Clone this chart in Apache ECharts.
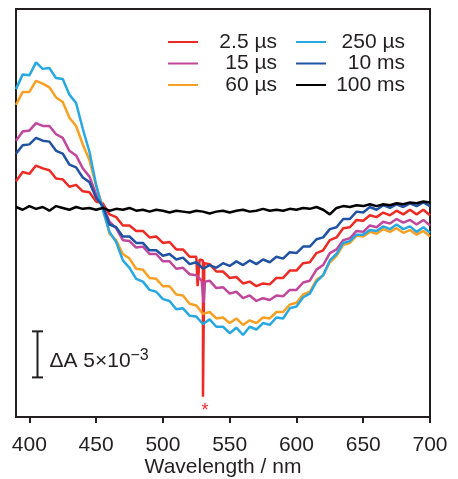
<!DOCTYPE html>
<html><head><meta charset="utf-8">
<script src="https://cdn.jsdelivr.net/npm/echarts@6/dist/echarts.min.js"></script>
<style>html,body{margin:0;padding:0;background:#fff}#c{width:458px;height:479px}</style>
</head><body><div id="c"></div>
<script>
// Wavelength grid (nm), 5 nm step
const wavelengths = [390,395,400,405,410,415,420,425,430,435,440,445,450,455,460,465,470,475,480,485,490,495,500,505,510,515,520,525,530,535,540,545,550,555,560,565,570,575,580,585,590,595,600,605,610,615,620,625,630,635,640,645,650,655,660,665,670,675,680,685,690,695,700];
const tickValues = [400,450,500,550,600,650,700];
const seriesNames = ['2.5 µs','15 µs','60 µs','250 µs','10 ms','100 ms'];
// ΔA values in units of 1e-3
const red_2_5us = [3.0,4.0,3.8,4.7,4.4,4.2,3.3,3.2,2.4,2.6,1.9,1.8,0.8,0.6,-0.6,-0.9,-1.8,-1.8,-2.4,-2.4,-3.1,-3.0,-3.7,-3.6,-4.4,-4.4,-5.2,-5.2,-5.6,-6.0,-6.8,-6.8,-7.5,-7.4,-8.1,-7.9,-8.4,-8.1,-8.2,-7.5,-7.5,-6.7,-6.7,-5.9,-5.8,-4.8,-4.5,-3.4,-3.1,-2.1,-2.0,-1.2,-1.3,-0.7,-0.9,-0.4,-0.7,-0.2,-0.6,-0.1,-0.6,-0.1,-0.7];
const redSpikeWl = [526,527.5,530,531];
const redSpikeVal = [-8.4,-5.5,-20.4,-5.9];
const magenta_15us = [7.4,8.4,8.5,9.3,9.0,9.0,8.1,7.7,6.3,5.8,4.4,3.5,1.6,0.4,-1.4,-2.1,-3.4,-3.5,-4.2,-4.1,-4.9,-4.9,-5.7,-5.7,-6.5,-6.4,-7.1,-7.2,-7.9,-7.8,-8.6,-8.5,-9.2,-9.0,-9.7,-9.4,-10.0,-9.7,-9.9,-9.4,-9.5,-8.8,-8.8,-8.0,-7.8,-6.6,-6.1,-4.8,-4.4,-3.4,-3.2,-2.4,-2.5,-1.8,-2.0,-1.4,-1.6,-1.1,-1.5,-1.2,-1.7,-1.2,-1.8];
const magentaSpikeWl = [529,530.5,531.5];
const magentaSpikeVal = [-7.8,-10.2,-7.9];
const orange_60us = [11.3,12.7,12.7,13.9,13.6,13.2,12.1,11.6,9.9,9.0,7.0,5.3,2.5,0.2,-2.7,-3.4,-4.9,-5.4,-6.5,-6.6,-7.5,-7.6,-8.4,-8.4,-9.3,-9.4,-10.3,-10.5,-11.4,-11.2,-11.9,-11.8,-12.4,-11.9,-12.6,-12.1,-12.4,-11.8,-11.9,-11.2,-11.2,-10.4,-10.2,-9.3,-9.0,-7.7,-7.2,-5.8,-5.1,-3.9,-3.7,-2.9,-3.0,-2.5,-2.7,-2.2,-2.5,-2.1,-2.6,-2.3,-2.8,-2.4,-3.0];
const lightblue_250us = [13.0,14.6,14.5,15.9,15.2,15.3,14.2,14.1,12.4,11.5,8.7,6.2,2.6,-0.1,-2.5,-3.6,-5.6,-6.4,-7.6,-7.9,-8.8,-9.0,-9.8,-10.0,-10.9,-10.8,-11.6,-11.7,-12.5,-12.0,-12.8,-12.8,-13.5,-12.9,-13.7,-12.8,-13.1,-12.4,-12.6,-11.8,-11.9,-10.8,-10.6,-9.6,-9.2,-7.9,-7.2,-5.6,-4.9,-3.7,-3.5,-2.8,-2.8,-2.3,-2.4,-1.9,-2.2,-1.7,-2.2,-1.9,-2.5,-2.0,-2.6];
const darkblue_10ms = [6.0,6.9,7.0,7.7,7.4,7.3,6.3,6.0,4.8,4.5,3.4,2.9,1.2,0.3,-1.7,-2.0,-3.0,-3.0,-3.7,-3.7,-4.5,-4.5,-5.1,-4.9,-5.5,-5.3,-6.0,-5.8,-6.5,-6.1,-6.4,-5.9,-6.2,-5.7,-6.1,-5.6,-6.0,-5.5,-5.8,-5.2,-5.4,-4.7,-4.8,-4.1,-4.1,-3.3,-3.1,-2.2,-2.0,-1.1,-1.1,-0.3,-0.4,0.2,-0.1,0.4,0.1,0.5,0.2,0.6,0.3,0.7,0.3];
const black_100ms = [0.2,-0.1,0.3,0.0,0.2,-0.2,0.3,0.1,-0.1,0.2,0.0,0.1,-0.1,0.1,-0.2,0.0,-0.1,0.1,-0.2,-0.1,-0.3,-0.1,-0.2,-0.4,-0.2,-0.3,-0.4,-0.2,-0.3,-0.5,-0.3,-0.2,-0.4,-0.2,-0.1,-0.3,-0.2,0.0,-0.2,-0.1,-0.2,0.0,-0.1,0.1,0.0,0.2,-0.1,-0.6,0.1,0.3,0.2,0.4,0.3,0.5,0.3,0.5,0.4,0.6,0.5,0.7,0.6,0.8,0.7];
// Scale bar: [wavelength, top value, bottom value]
const scaleBar = [[405.5,-13.3,-18.3]];
const asterisk = [[531.5,-21.5]];

const colors = ['#ee2a25','#c0479c','#f8a023','#27a8e0','#2052a3','#000000'];
const FONT = 'Liberation Sans, Arial, sans-serif';

function pairs(xs, ys, exX, exY) {
  const out = xs.map((x,i)=>[x, ys[i]]);
  if (exX) exX.forEach((x,i)=>out.push([x, exY[i]]));
  out.sort((a,b)=>a[0]-b[0]);
  return out;
}
const dataSets = [
  pairs(wavelengths, red_2_5us, redSpikeWl, redSpikeVal),
  pairs(wavelengths, magenta_15us, magentaSpikeWl, magentaSpikeVal),
  pairs(wavelengths, orange_60us),
  pairs(wavelengths, lightblue_250us),
  pairs(wavelengths, darkblue_10ms),
  pairs(wavelengths, black_100ms)
];

const chart = echarts.init(document.getElementById('c'), null, {renderer:'canvas'});
const lineSeries = seriesNames.map((n,i)=>({
  name:n, type:'line', data:dataSets[i], showSymbol:false, symbol:'none',
  lineStyle:{color:colors[i], width:2.5}, itemStyle:{color:colors[i]}, animation:false, z: 2+i
}));

function legendCfg(names, left){
  return {
    data:names, orient:'vertical', left:left, top:31.5, itemWidth:30, itemHeight:2, itemGap:0.5,
    icon:'rect', selectedMode:false, padding:0,
    formatter:'{r|{name}}',
    textStyle:{fontFamily:FONT, fontSize:21, color:'#231f20', rich:{r:{width:74, align:'right', fontSize:21, lineHeight:21, fontFamily:FONT, color:'#231f20'}}}
  };
}

chart.setOption({
  animation:false,
  grid:{left:16, right:28, top:9, bottom:62, show:true, borderColor:'#231f20', borderWidth:2, backgroundColor:'transparent', containLabel:false, outerBoundsMode:'none'},
  legend:[legendCfg(seriesNames.slice(0,3),168), legendCfg(seriesNames.slice(3),296)],
  xAxis:{type:'value', min:390, max:700,
    name:'Wavelength / nm', nameLocation:'middle', nameGap:40, nameMoveOverlap:false,
    nameTextStyle:{fontFamily:FONT, fontSize:21, color:'#231f20'},
    axisLine:{show:true, onZero:false, lineStyle:{color:'#231f20', width:2}},
    axisTick:{show:true, inside:false, length:6, lineStyle:{color:'#231f20', width:2}, customValues:tickValues},
    axisLabel:{fontFamily:FONT, fontSize:21, color:'#231f20', margin:18, customValues:tickValues},
    splitLine:{show:false}},
  yAxis:{type:'value', min:-22.6, max:21.7, axisLine:{show:false}, axisTick:{show:false}, axisLabel:{show:false}, splitLine:{show:false}},
  series:[...lineSeries,
    {type:'custom', data:scaleBar, z:10, silent:true, renderItem:(params, api)=>{
      const p1 = api.coord([api.value(0), api.value(1)]);
      const p2 = api.coord([api.value(0), api.value(2)]);
      const x = Math.round(p1[0])+0.5;
      const st = {stroke:'#231f20', lineWidth:2};
      const mid = (p1[1]+p2[1])/2;
      return {type:'group', children:[
        {type:'line', shape:{x1:x, y1:p1[1], x2:x, y2:p2[1]}, style:st},
        {type:'line', shape:{x1:x-5.5, y1:p1[1], x2:x+5.5, y2:p1[1]}, style:st},
        {type:'line', shape:{x1:x-5.5, y1:p2[1], x2:x+5.5, y2:p2[1]}, style:st},
        {type:'text', x:x+12, y:mid+7, style:{text:'ΔA 5×10', fill:'#231f20', font:'21px '+FONT, align:'left', verticalAlign:'middle'}},
        {type:'text', x:x+93, y:mid+1, style:{text:'−3', fill:'#231f20', font:'16px '+FONT, align:'left', verticalAlign:'middle'}}
      ]};
    }},
    {type:'custom', data:asterisk, z:10, silent:true, renderItem:(params, api)=>{
      const p = api.coord([api.value(0), api.value(1)]);
      return {type:'text', x:p[0], y:p[1]+4, style:{text:'*', fill:'#ee2a25', font:'18px '+FONT, align:'center', verticalAlign:'middle'}};
    }}
  ]
});
</script></body></html>
